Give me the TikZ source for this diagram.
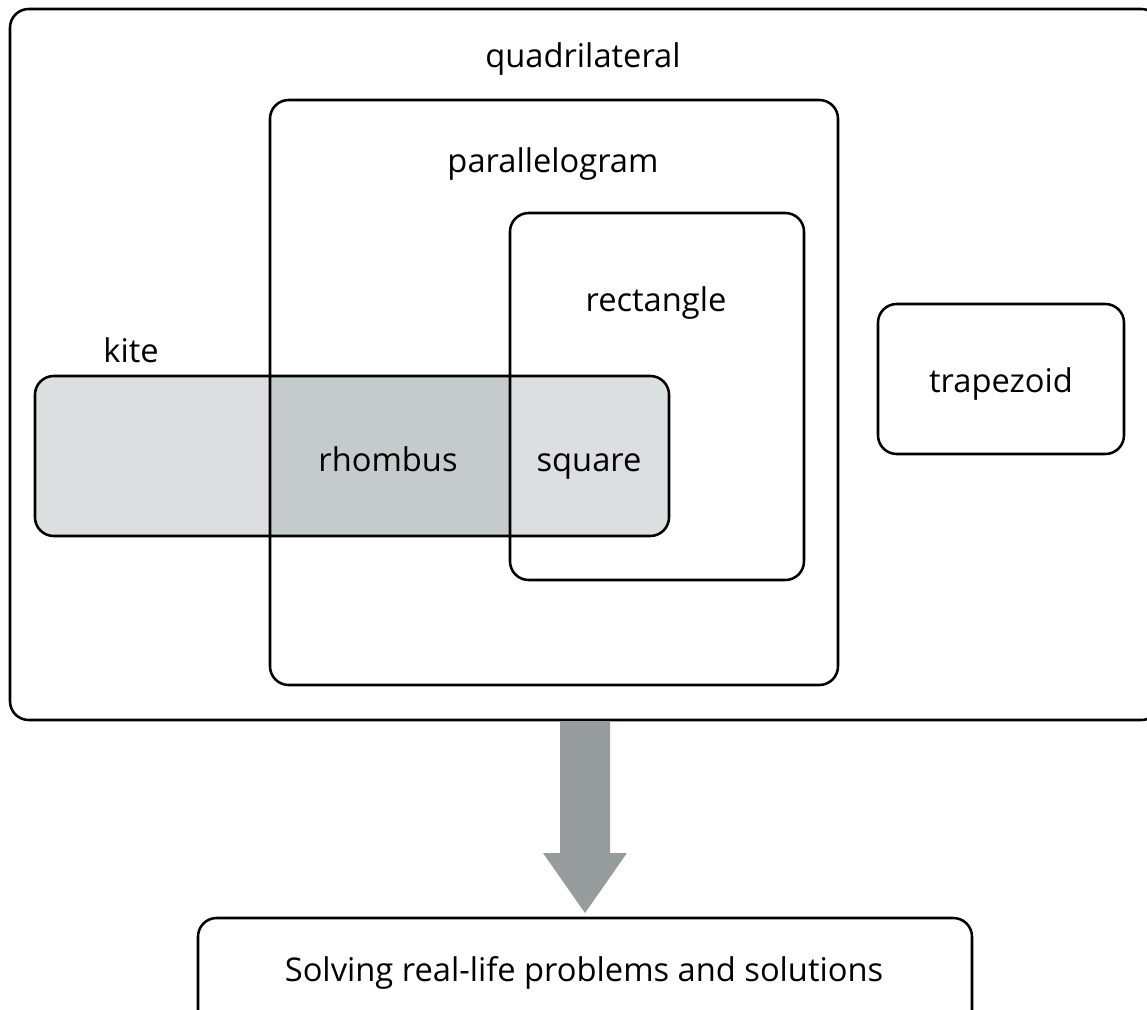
\documentclass[tikz,border=0pt]{standalone}
\usepackage{fontspec}
\setmainfont{Open Sans}
\usetikzlibrary{calc}
\definecolor{kitefill}{HTML}{DBDFE0}
\definecolor{rhombfill}{HTML}{C5CACA}
\definecolor{arrowgray}{HTML}{979D9D}
\begin{document}
\begin{tikzpicture}[x=0.75pt,y=-0.75pt,
  box/.style={draw=black, line width=1.9pt, rounded corners=14pt},
  lbl/.style={font=\fontsize{24.5}{29}\selectfont, inner sep=0pt, anchor=base}]
\useasboundingbox (0,0) rectangle (1147,1010);
\begin{scope}
\clip (0,0) rectangle (1147,1010);
% fills
\fill[kitefill, rounded corners=14pt] (35,376) rectangle (669,536);
\fill[rhombfill] (270,376) rectangle (510,536);
% outlines
\draw[box] (10,9) rectangle (1160,720);
\draw[box] (270,100) rectangle (838,685);
\draw[box] (510,213) rectangle (804,580);
\draw[box] (35,376) rectangle (669,536);
\draw[box] (878,304) rectangle (1124,454);
\draw[box] (198,918) rectangle (972,1050);
% arrow
\coordinate (arrtop) at (585,721);
\coordinate (arrtip) at (585,913);
\fill[arrowgray] ($(arrtop)+(-25,0)$) -- ($(arrtop)+(25,0)$) -- ($(arrtip)+(25,-60)$) -- ($(arrtip)+(42,-60)$) -- (arrtip) -- ($(arrtip)+(-42,-60)$) -- ($(arrtip)+(-25,-60)$) -- cycle;
\end{scope}
% labels
\node[lbl] (quad) at (583,67) {quadrilateral};
\node[lbl] (para) at (553,172) {parallelogram};
\node[lbl] (rect) at (656,311) {rectangle};
\node[lbl] (kite) at (131,362) {kite};
\node[lbl] (rhom) at (388,471) {rhombus};
\node[lbl] (squa) at (589,471) {square};
\node[lbl] (trap) at (1001,392) {trapezoid};
\node[lbl] (solv) at (584,981) {Solving real-life problems and solutions};
\end{tikzpicture}
\end{document}
